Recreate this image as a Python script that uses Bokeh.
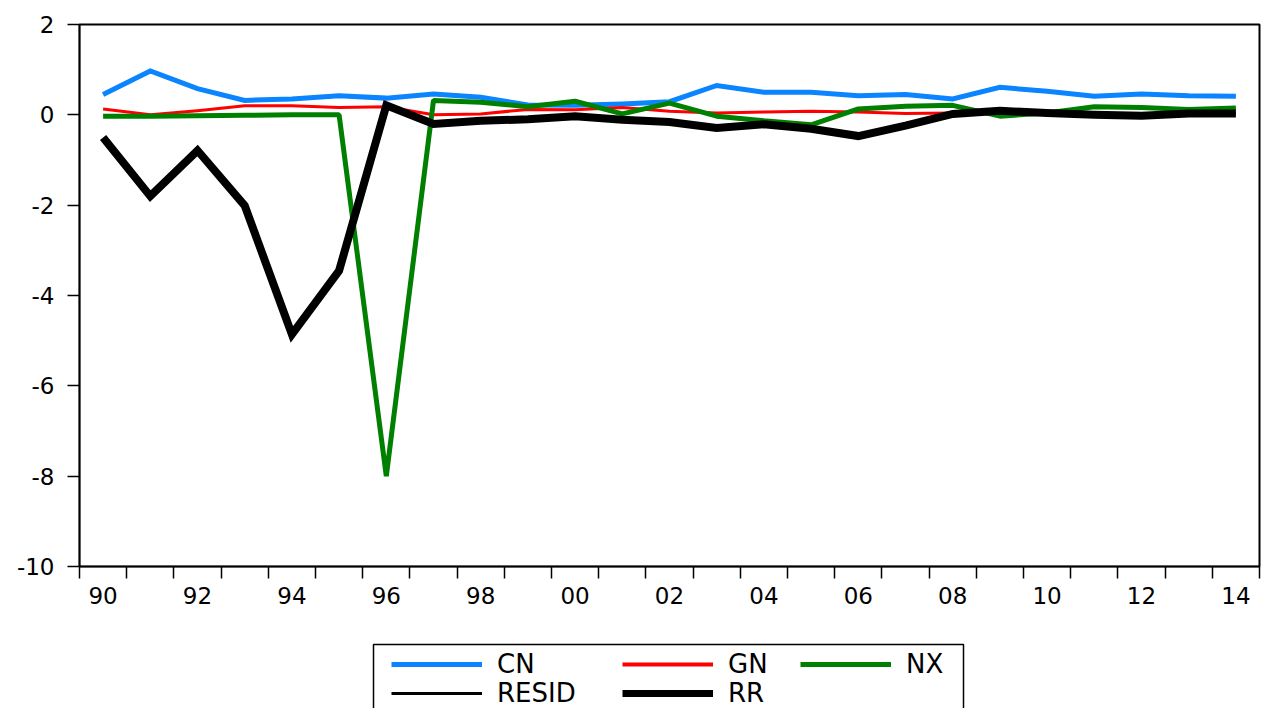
from bokeh.plotting import figure
from bokeh.models import Range1d, FixedTicker, Legend, LegendItem
from bokeh.layouts import column
from bokeh.embed import file_html
from bokeh.resources import INLINE

# ---- data ----
years = list(range(1990, 2015))
cn = [0.45, 0.97, 0.58, 0.32, 0.35, 0.42, 0.37, 0.46, 0.39, 0.22, 0.21, 0.24, 0.29,
      0.65, 0.50, 0.50, 0.42, 0.45, 0.35, 0.61, 0.52, 0.41, 0.46, 0.42, 0.41]
gn = [0.13, 0.00, 0.09, 0.20, 0.20, 0.16, 0.18, 0.00, 0.02, 0.12, 0.11, 0.16, 0.08,
      0.04, 0.06, 0.08, 0.06, 0.03, 0.04, 0.06, 0.04, 0.03, 0.03, 0.03, 0.03]
nx = [-0.03, -0.03, -0.02, -0.01, 0.00, 0.00, -8.00, 0.32, 0.28, 0.18, 0.30, 0.02, 0.26,
      -0.03, -0.13, -0.22, 0.13, 0.19, 0.21, -0.03, 0.04, 0.18, 0.16, 0.12, 0.15]
resid = [None] * 25
rr = [-0.50, -1.80, -0.79, -2.01, -4.86, -3.45, 0.21, -0.20, -0.13, -0.10, -0.03, -0.11, -0.16,
      -0.29, -0.21, -0.31, -0.47, -0.24, 0.02, 0.09, 0.04, 0.00, -0.02, 0.03, 0.03]
label_years = list(range(1990, 2015, 2))
tick_labels = ["90", "92", "94", "96", "98", "00", "02", "04", "06", "08", "10", "12", "14"]
y_ticks = [-10, -8, -6, -4, -2, 0, 2]
y_tick_labels = ["-10", "-8", "-6", "-4", "-2", "0", "2"]

series = [("CN", cn, "#0A84FF", 5, "miter"), ("GN", gn, "#FF0000", 3, "miter"),
          ("NX", nx, "#008000", 5, "bevel"), ("RESID", resid, "black", 3, "miter"),
          ("RR", rr, "black", 8, "miter")]
legend_widths = {"CN": 5, "GN": 4, "NX": 5, "RESID": 3, "RR": 7}

xs = [y + 0.5 for y in years]
FONT = "DejaVu Sans"
W = 1268
H_MAIN = 630
H_LEG = 78
FRAME_L = 79
FRAME_R = 1259

p = figure(width=W, height=H_MAIN, output_backend="svg", toolbar_location=None,
           x_range=Range1d(1990, 2015), y_range=Range1d(-10, 2),
           min_border_left=FRAME_L, min_border_right=W - FRAME_R, min_border_top=24,
           min_border_bottom=H_MAIN - 566)
p.grid.visible = False
p.background_fill_color = "white"
p.border_fill_color = "white"
p.outline_line_color = "black"
p.outline_line_width = 2

xa = p.xaxis[0]
xa.ticker = FixedTicker(ticks=[y + 0.5 for y in label_years], minor_ticks=list(range(1990, 2016)))
xa.major_label_overrides = {y + 0.5: t for y, t in zip(label_years, tick_labels)}
xa.major_tick_out = 0
xa.major_tick_in = 0
xa.minor_tick_out = 12
xa.minor_tick_in = 0
xa.minor_tick_line_color = "black"
xa.minor_tick_line_width = 1.5
xa.axis_line_color = "black"
xa.axis_line_width = 1.5
xa.major_label_text_font = FONT
xa.major_label_text_font_size = "23px"
xa.major_label_text_color = "black"
xa.major_label_standoff = 8

ya = p.yaxis[0]
ya.ticker = FixedTicker(ticks=y_ticks)
ya.major_label_overrides = {v: t for v, t in zip(y_ticks, y_tick_labels)}
ya.major_tick_out = 12
ya.major_tick_in = 0
ya.minor_tick_out = 0
ya.minor_tick_in = 0
ya.major_tick_line_color = "black"
ya.major_tick_line_width = 1.5
ya.axis_line_color = "black"
ya.axis_line_width = 1.5
ya.major_label_text_font = FONT
ya.major_label_text_font_size = "23px"
ya.major_label_text_color = "black"
ya.major_label_standoff = 13

for name, vals, color, lw, join in series:
    yv = [float("nan") if v is None else v for v in vals]
    p.line(xs, yv, line_color=color, line_width=lw, line_join=join)

# ---- legend panel: its frame is aligned with the chart's frame by the column layout ----
q = figure(width=W, height=H_LEG, output_backend="svg", toolbar_location=None,
           x_range=Range1d(FRAME_L, FRAME_R), y_range=Range1d(0, H_LEG),
           min_border_left=FRAME_L, min_border_right=W - FRAME_R,
           min_border_top=0, min_border_bottom=0)
q.axis.visible = False
q.grid.visible = False
q.outline_line_color = None
q.background_fill_color = "white"
q.border_fill_color = "white"

# legend frame (cut by the window bottom like the reference)
q.quad(left=[373], right=[963], top=[H_LEG - 14], bottom=[-20],
       fill_color="white", line_color="black", line_width=1.5)

proxies = {}
for name, vals, color, lw, join in series:
    proxies[name] = q.line([float("nan")], [float("nan")], line_color=color,
                           line_width=legend_widths[name])

ROW_H = 30

def make_legend(name, x, y_center_from_top):
    lg = Legend(items=[LegendItem(label=name, renderers=[proxies[name]])],
                orientation="vertical",
                location=(x - FRAME_L, (H_LEG - y_center_from_top) - ROW_H / 2))
    lg.label_text_font = FONT
    lg.label_text_font_size = "26px"
    lg.label_text_color = "black"
    lg.glyph_width = 91
    lg.glyph_height = 20
    lg.label_standoff = 15
    lg.spacing = 0
    lg.padding = 0
    lg.margin = 0
    lg.border_line_color = None
    lg.background_fill_alpha = 0
    q.add_layout(lg, "center")

make_legend("CN", 391, 34)
make_legend("GN", 622, 34)
make_legend("NX", 800, 34)
make_legend("RESID", 391, 63)
make_legend("RR", 622, 63)

open("out.html", "w").write(file_html(column(p, q, spacing=0), INLINE))
